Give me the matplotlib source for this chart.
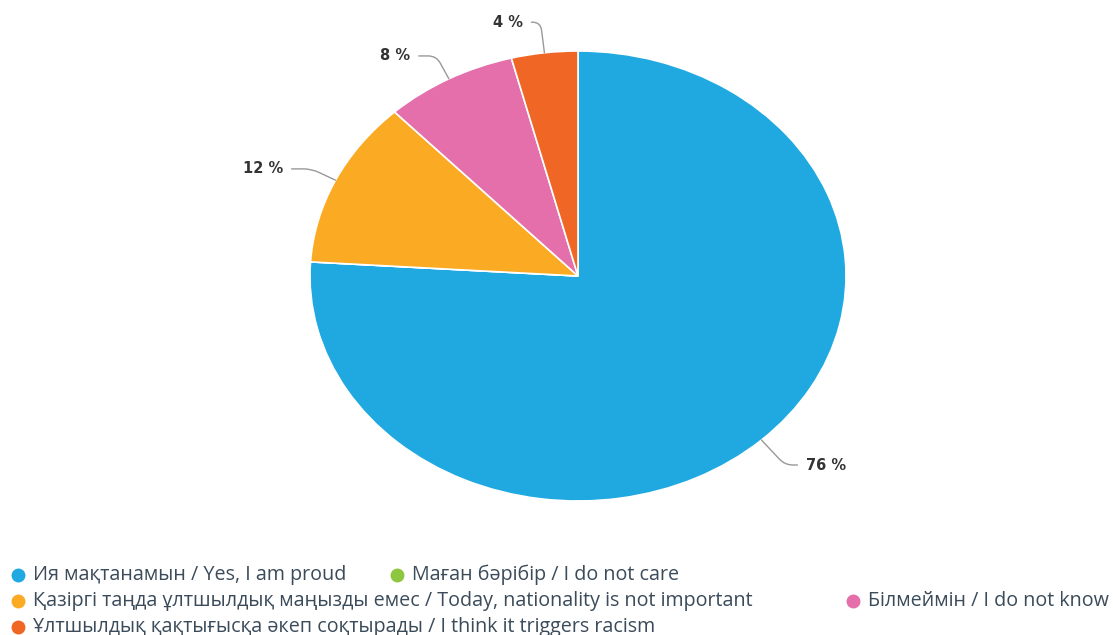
import matplotlib
matplotlib.use("Agg")
import matplotlib.pyplot as plt
from matplotlib.lines import Line2D
import numpy as np

categories = [
    "Ия мақтанамын / Yes, I am proud",
    "Маған бәрібір / I do not care",
    "Қазіргі таңда ұлтшылдық маңызды емес / Today, nationality is not important",
    "Білмеймін / I do not know",
    "Ұлтшылдық қақтығысқа әкеп соқтырады / I think it triggers racism",
]
values = [76, 0, 12, 8, 4]
labels = ["76 %", "", "12 %", "8 %", "4 %"]
colors = ["#20a9e1", "#8dc63f", "#fbaa24", "#e46fab", "#f06625"]

W, H = 1113, 635
fig = plt.figure(figsize=(W / 100, H / 100), dpi=100)
cx, cy, rx, ry = 578, 276, 268, 225
ax = fig.add_axes([(cx - rx) / W, (H - cy - ry) / H, 2 * rx / W, 2 * ry / H])

wedges, _ = ax.pie(values, colors=colors, startangle=90, counterclock=False,
                   wedgeprops=dict(edgecolor="white", linewidth=1.2))
ax.set_aspect("auto")
ax.set_xlim(-1, 1)
ax.set_ylim(-1, 1)
ax.axis("off")

# label text positions (axes-data units), per slice
text_pos = {0: (0.85, -0.84), 2: (-1.10, 0.476), 3: (-0.625, 0.978), 4: (-0.205, 1.128)}
for i, w in enumerate(wedges):
    if values[i] == 0:
        continue
    ang = (w.theta1 + w.theta2) / 2
    xe, ye = np.cos(np.radians(ang)), np.sin(np.radians(ang))
    tx, ty = text_pos[i]
    ha = "left" if tx > 0 else "right"
    ax.annotate(labels[i], xy=(xe, ye), xytext=(tx, ty), ha=ha, va="center",
                fontsize=10.5, fontweight="semibold", color="#333333",
                fontfamily="DejaVu Sans",
                arrowprops=dict(arrowstyle="-", color="#999999", lw=1,
                                shrinkA=4, shrinkB=0,
                                connectionstyle=f"angle,angleA=0,angleB={ang},rad=8"))

# legend (flow layout)
leg_pos = [(18, 575), (397, 575), (18, 601), (853, 601), (18, 627)]
for (mx, my), cat, col in zip(leg_pos, categories, colors):
    fig.add_artist(Line2D([mx / W], [1 - my / H], marker="o", markersize=9,
                          color=col, linestyle="none", transform=fig.transFigure))
    fig.text((mx + 15) / W, 1 - my / H, cat, ha="left", va="center",
             fontsize=14.2, color="#3b4b5a", fontfamily=["Open Sans", "DejaVu Sans"])

fig.savefig("out.png", dpi=100, facecolor="white")
